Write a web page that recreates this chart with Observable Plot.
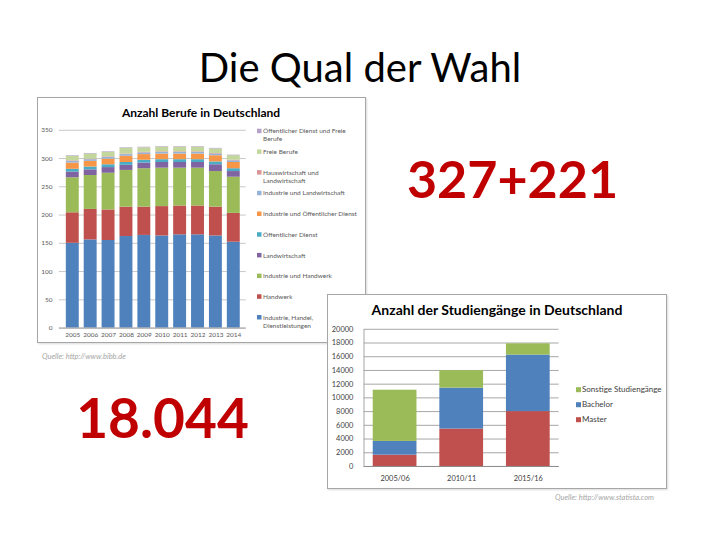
<!DOCTYPE html>
<html><head><meta charset="utf-8">
<script src="https://cdn.jsdelivr.net/npm/d3@7"></script>
<script src="https://cdn.jsdelivr.net/npm/@observablehq/plot@0.6"></script>
<style>
body{margin:0;background:#fff;}
#slide{position:relative;width:720px;height:540px;overflow:hidden;font-family:Lato,"Open Sans",sans-serif;background:#fff;}
.box{position:absolute;background:#fff;border:1px solid #a6a6a6;box-sizing:border-box;box-shadow:1px 1px 2px rgba(0,0,0,0.15);}
.box svg{position:absolute;left:-1px;top:-1px;overflow:visible;}
#bg{position:absolute;left:0;top:0;}
</style></head>
<body>
<div id="slide">
  <svg id="bg" width="720" height="540"></svg>
  <div class="box" id="box1" style="left:37px;top:97px;width:329px;height:246px;"></div>
  <div class="box" id="box2" style="left:327px;top:294px;width:340px;height:195px;"></div>
</div>
<script>
// ---------- Chart 1: Anzahl Berufe in Deutschland ----------
const years = ["2005","2006","2007","2008","2009","2010","2011","2012","2013","2014"];
const berufeSeries = [
  "Industrie, Handel, Dienstleistungen","Handwerk","Industrie und Handwerk","Landwirtschaft",
  "Öffentlicher Dienst","Industrie und Öffentlicher Dienst","Industrie und Landwirtschaft",
  "Hauswirtschaft und Landwirtschaft","Freie Berufe","Öffentlicher Dienst und Freie Berufe"];
const berufeLegendLabels = [
  "Industrie, Handel,\nDienstleistungen","Handwerk","Industrie und Handwerk","Landwirtschaft",
  "Öffentlicher Dienst","Industrie und Öffentlicher Dienst","Industrie und Landwirtschaft",
  "Hauswirtschaft und\nLandwirtschaft","Freie Berufe","Öffentlicher Dienst und Freie\nBerufe"];
const berufeColors = ["#4f81bd","#c0504d","#9bbb59","#8064a2","#4bacc6","#f79646","#95b3d7","#d99694","#c3d69b","#b3a2c7"];
const ihd            = [150,156,155,162,164,163,165,165,163,152];
const handwerk       = [54,54,54,52,50,52,51,51,51,51];
const induHandwerk   = [62,60,65,65,68,68,67,67,63,64];
const landwirtschaft = [10,10,10,9,10,10,10,10,12,10];
const oeffDienst     = [5,5,5,5,5,5,5,5,5,5];
const induOeff       = [11,10,10,11,10,10,10,10,11,11];
const induLandw      = [3,3,3,3,3,3,3,3,3,3];
const hauswLandw     = [1,1,1,1,1,1,1,1,1,1];
const freieBerufe    = [8,9,8,10,8,8,8,8,8,8];
const oeffFreie      = [1,1,1,1,1,1,1,1,1,1];
const berufeTicks = [0,50,100,150,200,250,300,350];

// ---------- Chart 2: Anzahl der Studiengänge ----------
const semester = ["2005/06","2010/11","2015/16"];
const studSeries = ["Master","Bachelor","Sonstige Studiengänge"];
const studColors = ["#c0504d","#4f81bd","#9bbb59"];
const master   = [1650,5450,8000];
const bachelor = [2000,5970,8240];
const sonstige = [7470,2550,1640];
const studTicks = [0,2000,4000,6000,8000,10000,12000,14000,16000,18000,20000];

const FONT = "Lato, 'Open Sans', sans-serif";

// slide texts
const bg = d3.select("#bg");
bg.append("text").attr("x",360).attr("y",82).attr("text-anchor","middle")
  .attr("font-family",FONT).attr("font-size",40).attr("fill","#000").text("Die Qual der Wahl");
bg.append("text").attr("x",512.5).attr("y",198).attr("text-anchor","middle")
  .attr("font-family",FONT).attr("font-weight","bold").attr("font-size",52).attr("fill","#c00000").text("327+221");
bg.append("text").attr("x",162.5).attr("y",438).attr("text-anchor","middle")
  .attr("font-family",FONT).attr("font-weight","bold").attr("font-size",55).attr("fill","#c00000").text("18.044");
bg.append("text").attr("x",42).attr("y",359).attr("font-family",FONT).attr("font-style","italic")
  .attr("font-size",7.5).attr("fill","#a6a6a6").text("Quelle: http://www.bibb.de");
bg.append("text").attr("x",555).attr("y",500).attr("font-family",FONT).attr("font-style","italic")
  .attr("font-size",7.5).attr("fill","#a6a6a6").text("Quelle: http://www.statista.com");

// chart 1
const berufeValues = [ihd,handwerk,induHandwerk,landwirtschaft,oeffDienst,induOeff,induLandw,hauswLandw,freieBerufe,oeffFreie];
const berufeData = [];
berufeSeries.forEach((s,si)=>years.forEach((y,yi)=>berufeData.push({year:y,series:s,value:berufeValues[si][yi]})));

const chart1 = Plot.plot({
  width:329, height:246, marginLeft:22, marginRight:119, marginTop:33, marginBottom:14,
  style:{fontFamily:FONT, fontSize:"6.5px", color:"#595959", background:"transparent"},
  x:{domain:years, paddingInner:0.3, paddingOuter:0.12, tickSize:0, tickPadding:4, label:null},
  y:{domain:[0,350], ticks:berufeTicks, tickSize:0, tickPadding:7, label:null},
  color:{domain:berufeSeries, range:berufeColors},
  marks:[
    Plot.ruleY(berufeTicks,{stroke:"#c8c8c8"}),
    Plot.barY(berufeData,{x:"year", y:"value", fill:"series"}),
    Plot.ruleY([0],{stroke:"#a0a0a0"})
  ]
});
document.getElementById("box1").appendChild(chart1);

const ov1 = d3.select("#box1").append("svg").attr("width",329).attr("height",246);
ov1.append("text").attr("x",201-37).attr("y",117-97).attr("text-anchor","middle")
  .attr("font-family",FONT).attr("font-weight","bold").attr("font-size",12).attr("fill","#000")
  .text("Anzahl Berufe in Deutschland");
const legOrder1 = d3.range(berufeSeries.length).reverse();
legOrder1.forEach((si,i)=>{
  const cy = 131 + i*20.7 - 97;
  ov1.append("rect").attr("x",257-37).attr("y",cy-2.3).attr("width",4.5).attr("height",4.5).attr("fill",berufeColors[si]);
  const t = ov1.append("text").attr("x",263-37).attr("y",cy+2.3).attr("font-family",FONT)
    .attr("font-size",6.5).attr("fill","#595959");
  berufeLegendLabels[si].split("\n").forEach((line,li)=>{
    t.append("tspan").attr("x",263-37).attr("dy",li?8:0).text(line);
  });
});

// chart 2
const studValues = [master,bachelor,sonstige];
const studData = [];
studSeries.forEach((s,si)=>semester.forEach((y,yi)=>studData.push({sem:y,series:s,value:studValues[si][yi]})));

const chart2 = Plot.plot({
  width:340, height:195, marginLeft:37, marginRight:107, marginTop:35, marginBottom:22,
  style:{fontFamily:FONT, fontSize:"7.5px", color:"#404040", background:"transparent"},
  x:{domain:semester, paddingInner:0.34, paddingOuter:0.13, tickSize:0, tickPadding:9, label:null},
  y:{domain:[0,20000], ticks:studTicks, tickSize:0, tickPadding:11, label:null, tickFormat:d=>String(d)},
  color:{domain:studSeries, range:studColors},
  marks:[
    Plot.ruleY(studTicks,{stroke:"#a6a6a6"}),
    Plot.barY(studData,{x:"sem", y:"value", fill:"series"}),
    Plot.ruleY([0],{stroke:"#8c8c8c"})
  ]
});
document.getElementById("box2").appendChild(chart2);

const ov2 = d3.select("#box2").append("svg").attr("width",340).attr("height",195);
ov2.append("text").attr("x",497-327).attr("y",315-294).attr("text-anchor","middle")
  .attr("font-family",FONT).attr("font-weight","bold").attr("font-size",14).attr("fill","#000")
  .text("Anzahl der Studiengänge in Deutschland");
ov2.append("line").attr("x1",37).attr("x2",37).attr("y1",35).attr("y2",173).attr("stroke","#a6a6a6");
const legOrder2 = d3.range(studSeries.length).reverse();
legOrder2.forEach((si,i)=>{
  const cy = 389.7 + i*15 - 294;
  ov2.append("rect").attr("x",576-327).attr("y",cy-2.5).attr("width",5).attr("height",5).attr("fill",studColors[si]);
  ov2.append("text").attr("x",582-327).attr("y",cy+2.7).attr("font-family",FONT)
    .attr("font-size",8).attr("fill","#404040").text(studSeries[si]);
});
</script>
</body></html>
